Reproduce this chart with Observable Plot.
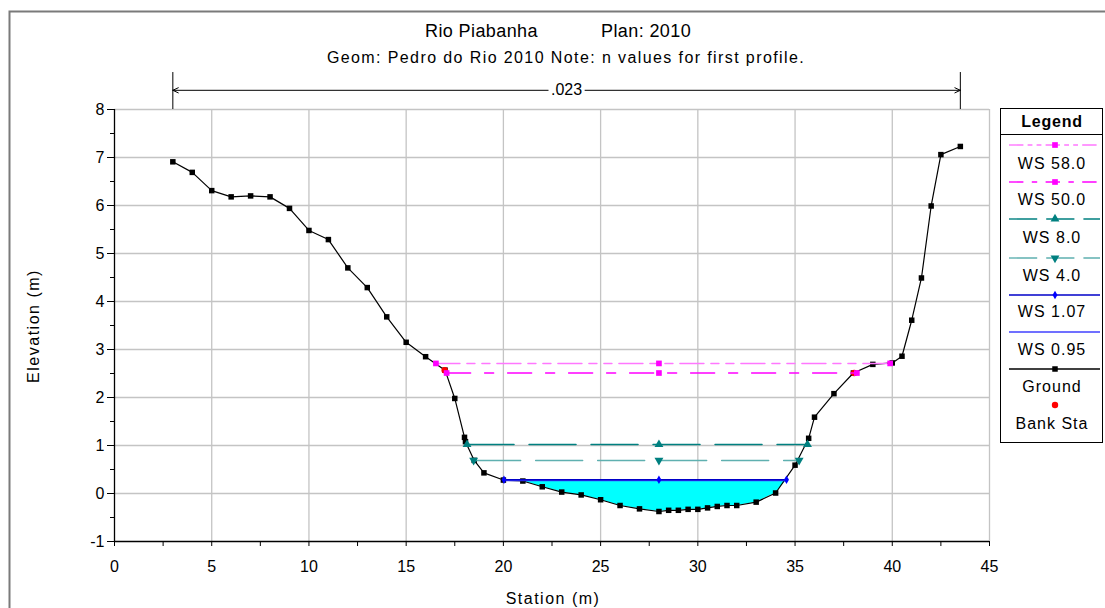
<!DOCTYPE html>
<html><head><meta charset="utf-8">
<script src="https://cdn.jsdelivr.net/npm/d3@7"></script>
<script src="https://cdn.jsdelivr.net/npm/@observablehq/plot@0.6"></script>
<style>body{margin:0;background:#fff;} svg{display:block}</style>
</head><body><div id="chart"></div>
<script>
// ---- data ----
const groundStation = [3,4,5,6,7,8,9,10,11,12,13,14,15,16,17.0,17.5,18.0,18.05,18.5,19,20,21,22,23,24,25,26,27,28,28.5,29,29.5,30,30.5,31,31.5,32,33,34,35,35.7,36,37,38,39,40,40.5,41,41.5,42,42.5,43.5];
const groundElev    = [6.91,6.69,6.31,6.18,6.20,6.18,5.94,5.48,5.29,4.70,4.29,3.68,3.15,2.85,2.57,1.98,1.17,1.08,0.69,0.43,0.28,0.26,0.14,0.03,-0.03,-0.13,-0.25,-0.32,-0.375,-0.35,-0.35,-0.33,-0.33,-0.30,-0.27,-0.25,-0.25,-0.18,0.01,0.59,1.15,1.59,2.08,2.51,2.69,2.72,2.86,3.61,4.49,5.99,7.06,7.23];
const bankStation = [16.98, 38.04];
const bankElev = [2.57, 2.51];
const wsNames = ["WS 58.0","WS 50.0","WS 8.0","WS 4.0","WS 1.07","WS 0.95"];
const wsElev  = [2.71, 2.51, 1.02, 0.69, 0.285, 0.27];
const wsLeft  = [16.53, 17.08, 18.13, 18.47, 20.03, 20.03];
const wsRight = [39.89, 38.18, 35.64, 35.21, 34.56, 34.56];
const wsMidStation = 28;
const nValueText = ".023";
const nValueFrom = 3, nValueTo = 43.5;
const xTicks = [0,5,10,15,20,25,30,35,40,45];
const xMinor = [2.5,7.5,12.5,17.5,22.5,27.5,32.5,37.5,42.5];
const yTicks = [-1,0,1,2,3,4,5,6,7,8];
const yMinor = [-0.5,0.5,1.5,2.5,3.5,4.5,5.5,6.5,7.5];
const legendNames = ["WS 58.0","WS 50.0","WS 8.0","WS 4.0","WS 1.07","WS 0.95","Ground","Bank Sta"];

// ---- styles ----
const FONT = "'Liberation Sans', Arial, sans-serif";
const wsStyle = [
  {stroke:"#ff77ff", dash:"24,7,8,7,8,7", symbol:"square", fill:"#ff00ff", r:3.2, rotate:0},
  {stroke:"#ff00ff", dash:"24,14,9,14", symbol:"square", fill:"#ff00ff", r:3.2, rotate:0},
  {stroke:"#008080", dash:"47,15", symbol:"triangle", fill:"#008080", r:3.3, rotate:0},
  {stroke:"#5fb0b0", dash:"47,15", symbol:"triangle", fill:"#008080", r:3.3, rotate:180},
  {stroke:"#0000c8", dash:null, symbol:"diamond", fill:"#0000ff", r:2.6, rotate:0},
  {stroke:"#4040ff", dash:null, symbol:null, fill:null, r:0, rotate:0}
];

const ground = groundStation.map((x,i)=>({x, y: groundElev[i]}));
const fillLevel = wsElev[5];
const fillData = [{x: wsLeft[5], y1: fillLevel, y2: fillLevel}]
  .concat(ground.filter(d => d.x > wsLeft[5] && d.x < wsRight[5]).map(d => ({x:d.x, y1:d.y, y2:fillLevel})))
  .concat([{x: wsRight[5], y1: fillLevel, y2: fillLevel}]);

const marks = [
  Plot.gridX(xTicks.slice(1), {stroke:"#c4c4c4", strokeOpacity:1, strokeWidth:1.3}),
  Plot.gridY(yTicks.slice(1), {stroke:"#c4c4c4", strokeOpacity:1, strokeWidth:1.3}),
  Plot.areaY(fillData, {x:"x", y1:"y1", y2:"y2", fill:"#00ffff"}),
];
marks.push(Plot.line(ground, {x:"x", y:"y", stroke:"black", strokeWidth:1.2}));
marks.push(Plot.dot(ground, {x:"x", y:"y", symbol:"square", fill:"black", r:3.1}));
marks.push(Plot.dot(bankStation.map((x,i)=>[x, bankElev[i]]), {fill:"#ff0000", r:3.2}));
for (let i = wsNames.length-1; i >= 0; i--) {
  const s = wsStyle[i];
  marks.push(Plot.line([[wsLeft[i], wsElev[i]], [wsRight[i], wsElev[i]]],
    {stroke:s.stroke, strokeWidth: i>=4 ? 1.6 : 1.5, strokeDasharray: s.dash ?? undefined}));
  if (s.symbol) marks.push(Plot.dot([[wsLeft[i], wsElev[i]], [wsMidStation, wsElev[i]], [wsRight[i], wsElev[i]]],
    {symbol:s.symbol, fill:s.fill, r:s.r, rotate:s.rotate}));
}
marks.push(Plot.ruleX([0], {y1:-1, y2:8, stroke:"black", strokeWidth:1.3}));
marks.push(Plot.ruleY([-1], {x1:0, x2:45, stroke:"black", strokeWidth:1.3}));
marks.push(Plot.axisX(xTicks, {tickSize:5, tickPadding:14, fontSize:16, label:null, tickFormat:d=>String(d)}));
marks.push(Plot.axisX(xMinor, {tickSize:5, tickFormat:()=>"", label:null}));
marks.push(Plot.axisY(yTicks, {tickSize:7, tickPadding:3, fontSize:16, label:null, tickFormat:d=>String(d)}));
marks.push(Plot.axisY(yMinor, {tickSize:4, tickFormat:()=>"", label:null}));
const nY = 8.4, nMid = (nValueFrom + nValueTo)/2;
marks.push(Plot.ruleX([nValueFrom, nValueTo], {y1:8, y2:8.77, stroke:"black", strokeWidth:1}));
marks.push(Plot.arrow([{x1:nMid-0.95, x2:nValueFrom, y:nY}], {x1:"x1", x2:"x2", y1:"y", y2:"y", stroke:"black", strokeWidth:1, headLength:9, headAngle:50}));
marks.push(Plot.arrow([{x1:nMid+0.95, x2:nValueTo, y:nY}], {x1:"x1", x2:"x2", y1:"y", y2:"y", stroke:"black", strokeWidth:1, headLength:9, headAngle:50}));
marks.push(Plot.text([nValueText], {x:nMid, y:nY, text:d=>d, fontSize:16, fill:"black"}));

const plot = Plot.plot({
  width:1105, height:608,
  marginLeft:114, marginRight:116, marginTop:109, marginBottom:67,
  x:{domain:[0,45], axis:null},
  y:{domain:[-1,8], axis:null},
  style:{fontFamily:FONT, fontSize:"16px", color:"black", background:"white", overflow:"visible"},
  marks
});
document.getElementById("chart").append(plot);

// ---- titles, frame, legend ----
const svg = d3.select(plot);
const g = svg.append("g").attr("font-family", FONT).attr("fill","black");
g.append("path").attr("d","M9.5,608 V11.5 H1105").attr("fill","none").attr("stroke","#7a7a7a").attr("stroke-width",2);
g.append("text").attr("x",425).attr("y",37).attr("text-anchor","start").attr("font-size",18).attr("letter-spacing",0.4).text("Rio Piabanha");
g.append("text").attr("x",601).attr("y",37).attr("text-anchor","start").attr("font-size",18).attr("letter-spacing",0.4).text("Plan: 2010");
g.append("text").attr("x",566).attr("y",63).attr("text-anchor","middle").attr("font-size",16).attr("letter-spacing",1.4)
  .text("Geom: Pedro do Rio 2010 Note: n values for first profile.");
g.append("text").attr("transform","translate(39,326) rotate(-90)").attr("text-anchor","middle").attr("font-size",16).attr("letter-spacing",1.5).text("Elevation (m)");
g.append("text").attr("x",553).attr("y",604).attr("text-anchor","middle").attr("font-size",16).attr("letter-spacing",1.5).text("Station (m)");

const L = g.append("g");
L.append("rect").attr("x",1000.5).attr("y",108.5).attr("width",102).attr("height",334).attr("fill","white").attr("stroke","black");
L.append("line").attr("x1",1000.5).attr("x2",1102.5).attr("y1",134.5).attr("y2",134.5).attr("stroke","black");
L.append("text").attr("x",1052).attr("y",127).attr("text-anchor","middle").attr("font-size",16).attr("font-weight","bold").attr("letter-spacing",0.8).text("Legend");
const lineY = [145,182,219,258,295,332,369,405];
const labelY = [163,199,237,275,311,349,386,423];
const symMap = {square:d3.symbolSquare, triangle:d3.symbolTriangle, diamond:d3.symbolDiamond, circle:d3.symbolCircle};
legendNames.forEach((name,i) => {
  let st;
  if (i < 6) st = wsStyle[i];
  else if (i === 6) st = {stroke:"black", dash:null, symbol:"square", fill:"black", r:3.1, rotate:0};
  else st = {stroke:null, symbol:"circle", fill:"#ff0000", r:3.2, rotate:0};
  if (st.stroke) L.append("line").attr("x1",1009).attr("x2",1100).attr("y1",lineY[i]).attr("y2",lineY[i])
    .attr("stroke",st.stroke).attr("stroke-width",1.4).attr("stroke-dasharray", st.dash ? st.dash.split(",").map(v=>+v*0.6).join(",") : null);
  if (st.symbol) L.append("path").attr("d", d3.symbol(symMap[st.symbol], Math.PI*st.r*st.r)())
    .attr("transform",`translate(1055,${lineY[i]}) rotate(${st.rotate})`).attr("fill",st.fill);
  L.append("text").attr("x",1052).attr("y",labelY[i]+5.5).attr("text-anchor","middle").attr("font-size",16).attr("letter-spacing",1).text(name);
});
</script></body></html>
